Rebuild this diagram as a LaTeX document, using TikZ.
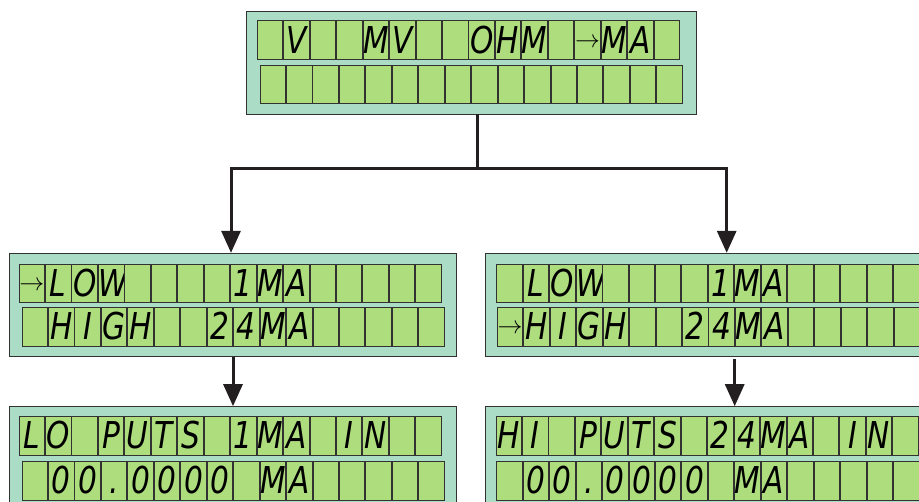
\documentclass[tikz,border=0pt]{standalone}
\usepackage{fontspec}
\newfontfamily\segfont[FakeStretch=0.8]{DejaVu Sans}
\usetikzlibrary{arrows.meta,calc}
\definecolor{lcdmint}{RGB}{170,220,198}
\definecolor{lcdgreen}{RGB}{174,221,126}
\definecolor{lcdline}{RGB}{50,50,50}
\definecolor{wire}{RGB}{35,31,32}
\tikzset{
  panel/.style={draw=lcdline, fill=lcdmint, line width=0.9pt, inner sep=0pt,
                minimum width=447.4pt, minimum height=103.4pt},
  cell/.style={anchor=north west, draw=lcdline, fill=lcdgreen, line width=0.9pt,
               minimum width=25.5pt, minimum height=38.7pt, inner sep=0pt,
               text height=26pt, text depth=0pt,
               font=\segfont\itshape\fontsize{37}{37}\selectfont},
  flow/.style={-{Triangle[length=22pt,width=19pt]}, line width=3pt, draw=wire},
}
% cursor arrow in a cell
\newcommand\ptr{\raisebox{6pt}{\normalfont\fontsize{24.88}{25}\selectfont$\rightarrow$}}
% one row of 16 character cells
\newcommand\lcdrow[4]{%
  \foreach \c [count=\i from 0] in {#4}
    \node[cell] at ($(#1.north west)+(#2+26.45*\i,#3)$) {\c};}

\begin{document}
\begin{tikzpicture}[x=1pt, y=-1pt]
  \useasboundingbox (0,0) rectangle (919,502);
  % the five displays
  \node[panel, minimum width=449.3pt, minimum height=103pt] (menu) at (471.35,62.5) {};
  \node[panel] (lowhi) at (233,305) {};
  \node[panel] (hilo) at (708.7,305) {};
  \node[panel] (readlo) at (233,458.35) {};
  \node[panel] (readhi) at (708.7,458.35) {};
  % display texts
  \lcdrow{menu}{10.6}{9.7}{{},V,{},{},M,V,{},{},O,H,M,{},\ptr,M,A,{}}
  \lcdrow{menu}{13.3}{54}{{},{},{},{},{},{},{},{},{},{},{},{},{},{},{},{}}
  \lcdrow{lowhi}{9.7}{10.7}{\ptr,L,O,W,{},{},{},{},1,M,A,{},{},{},{},{}}
  \lcdrow{lowhi}{12.7}{54}{{},H,I,G,H,{},{},2,4,M,A,{},{},{},{},{}}
  \lcdrow{hilo}{11.7}{10.7}{{},L,O,W,{},{},{},{},1,M,A,{},{},{},{},{}}
  \lcdrow{hilo}{12.3}{54}{\ptr,H,I,G,H,{},{},2,4,M,A,{},{},{},{},{}}
  \lcdrow{readlo}{9.7}{10}{L,O,{},P,U,T,S,{},1,M,A,{},I,N,{},{}}
  \lcdrow{readlo}{12.7}{55}{{},0,0,.,0,0,0,0,{},M,A,{},{},{},{},{}}
  \lcdrow{readhi}{11}{10}{H,I,{},P,U,T,S,{},2,4,M,A,{},I,N,{}}
  \lcdrow{readhi}{11.7}{55}{{},0,0,.,0,0,0,0,{},M,A,{},{},{},{},{}}
  % connectors
  \coordinate (split) at (477.3,168.3);
  \draw[line width=3pt, draw=wire] (menu.south -| split) -- (split);
  \draw[flow] (split) -| ([xshift=-2pt]lowhi.north);
  \draw[flow] (split) -| ([xshift=18pt]hilo.north);
  \draw[flow] (lowhi.south) -- (readlo.north);
  \draw[flow] ([xshift=26pt,yshift=-2pt]hilo.south) -- ([xshift=26pt]readhi.north);
\end{tikzpicture}
\end{document}
